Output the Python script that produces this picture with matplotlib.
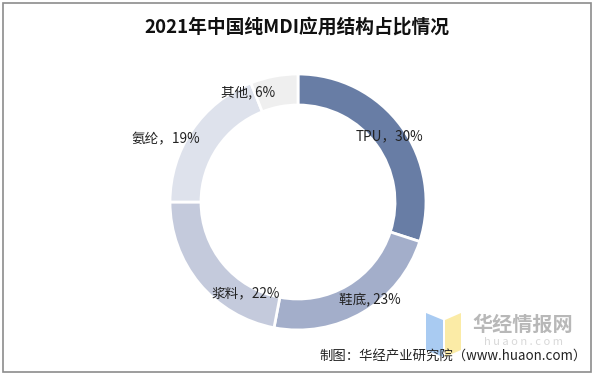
import matplotlib
matplotlib.use("Agg")
import matplotlib.pyplot as plt
import numpy as np
from matplotlib.patches import Rectangle, Polygon

plt.rcParams['font.family'] = ['Noto Sans CJK SC', 'DejaVu Sans']

categories = ["TPU", "鞋底", "浆料", "氨纶", "其他"]
values = [30, 23, 22, 19, 6]
label_texts = ["TPU，30%", "鞋底, 23%", "浆料，22%", "氨纶，19%", "其他, 6%"]
colors = ["#687DA5", "#A3AECA", "#C4CADC", "#DEE2EC", "#EFEFEF"]
title = "2021年中国纯MDI应用结构占比情况"
source = "制图：华经产业研究院（www.huaon.com）"

W, H = 596, 374
fig = plt.figure(figsize=(W / 100, H / 100), dpi=100)
ax = fig.add_axes([0, 0, 1, 1])

cx, cy, R, ring = 298, 172, 128, 31
wedges, _ = ax.pie(values, colors=colors, startangle=90, counterclock=False,
                   center=(cx, cy), radius=R, frame=True,
                   wedgeprops=dict(width=ring, edgecolor="white", linewidth=2))
ax.set_xlim(0, W)
ax.set_ylim(0, H)
ax.set_aspect('auto')
ax.axis('off')

# border
ax.add_patch(Rectangle((3, 2.5), 588, 368.5, fill=False, edgecolor="#8C8C8C", linewidth=1.2))

# labels at mid-ring, with per-label alignment
offsets = [(1, 0, 'center'), (15, -2, 'center'), (0, -20, 'left'), (-5, 0, 'right'), (-2, 0, 'right')]
rmid = R - ring / 2 - 0.5
for w, txt, (dx, dy, ha) in zip(wedges, label_texts, offsets):
    ang = np.deg2rad((w.theta1 + w.theta2) / 2)
    x = cx + rmid * np.cos(ang) + dx
    y = cy + rmid * np.sin(ang) + dy
    ax.text(x, y, txt, ha=ha, va='center', fontsize=9.8, color="#222222")

ax.text(297, H - 27, title, ha='center', va='center', fontsize=13.5,
        color="#111111", fontweight='bold')

# watermark logo
ax.add_patch(Polygon([(426, H - 313), (443, H - 320), (443, H - 357), (426, H - 350)],
                     closed=True, facecolor="#A9CBF2", edgecolor="none"))
ax.add_patch(Polygon([(445, H - 320), (461, H - 313), (461, H - 350), (445, H - 357)],
                     closed=True, facecolor="#FBEBA6", edgecolor="none"))
ax.text(523, H - 324, "华经情报网", ha='center', va='center', fontsize=14.5,
        color="#B8B8B8", fontweight='bold')
ax.text(523, H - 342, "h u a o n . c o m", ha='center', va='center', fontsize=8,
        color="#D8D8D8")

ax.text(587, H - 357, source, ha='right', va='center', fontsize=9.6, color="#222222")

fig.savefig("out.png", dpi=100)
